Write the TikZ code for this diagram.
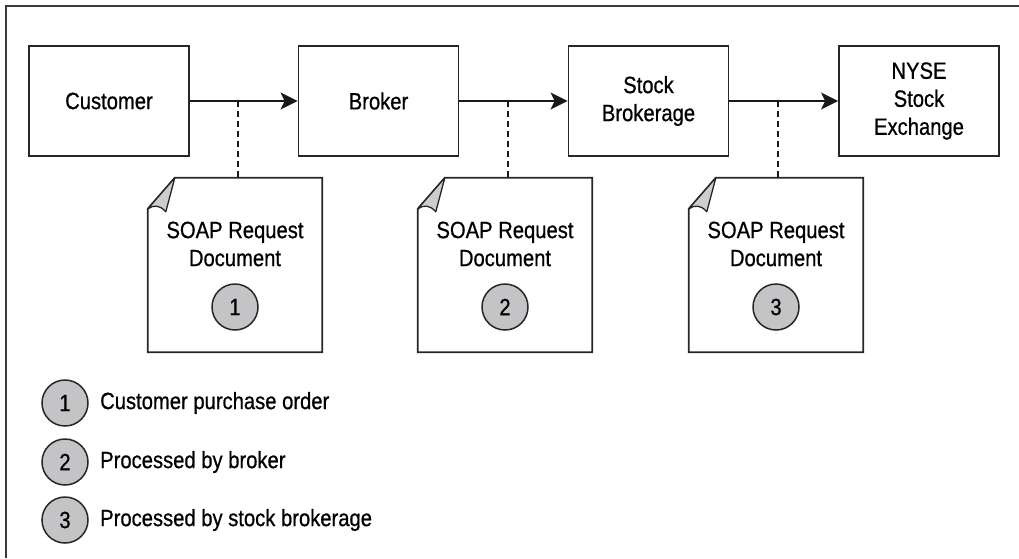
\documentclass[tikz,border=0pt]{standalone}
\usepackage{fontspec}
\setmainfont{Liberation Sans}[FakeStretch=0.86,FakeBold=0.7]
\usetikzlibrary{arrows.meta,calc}
\definecolor{circgray}{HTML}{C4C4C6}
\definecolor{foldgray}{HTML}{CDCDCF}
\definecolor{framegray}{HTML}{3A3A3A}
\begin{document}
\begin{tikzpicture}[x=1pt,y=-1pt,
  every node/.style={font=\fontsize{23.5}{28}\selectfont, text=black},
  entity/.style={draw=black!85, line width=1.8pt, minimum width=160pt, minimum height=110pt, align=center, inner sep=0pt},
  docarea/.style={draw=none, minimum width=174pt, minimum height=174pt, inner sep=0pt},
  numcirc/.style={circle, draw=black!85, line width=1.5pt, fill=circgray, minimum size=46pt, inner sep=0pt},
  flow/.style={line width=1.8pt, draw=black!90, -{Stealth[length=17pt,width=17pt,inset=4pt]}},
  link/.style={line width=1.8pt, draw=black!90, dash pattern=on 6pt off 4pt},
  docline/.style={line width=1.8pt, draw=black!85, line join=miter}
]
\useasboundingbox (0,0) rectangle (1019,558);
% frame (top and left edges)
\draw[framegray, line width=2pt] (1019,6) -- (6,6) -- (6,558);

% entities
\node[entity] (cust) at (109,101) {Customer};
\node[entity] (brok) at (378.5,101) {Broker};
\node[entity] (stock) at (648.5,101) {Stock\\Brokerage};
\node[entity] (nyse) at (919,101) {NYSE\\Stock\\Exchange};

\draw[flow] (cust.east) -- (brok.west);
\draw[flow] (brok.east) -- (stock.west);
\draw[flow] (stock.east) -- (nyse.west);

% documents
\foreach \i/\cx/\mx in {1/235/238, 2/505/508, 3/776/778} {
  \node[docarea] (d\i) at (\cx,265) {};
  \coordinate (m\i) at (\mx,101);
  \draw[link] (m\i) -- (m\i |- d\i.north);
  \draw[docline] ($(d\i.north west)+(27,0)$) -- (d\i.north east) -- (d\i.south east) -- (d\i.south west) -- ($(d\i.north west)+(0,31)$) -- cycle;
  \draw[line width=1.3pt, draw=black!85, fill=foldgray, line join=round]
    ($(d\i.north west)+(27,0)$) -- ($(d\i.north west)+(18,34)$)
    .. controls ($(d\i.north west)+(12,27)$) and ($(d\i.north west)+(6,27)$) .. ($(d\i.north west)+(0,31)$) -- cycle;
  \node[align=center] (t\i) at (\cx,244) {SOAP Request\\Document};
  \node[numcirc] (c\i) at (\cx,307) {\i};
}

% legend
\node[numcirc] (l1) at (65,403) {1};
\node[numcirc] (l2) at (65,462) {2};
\node[numcirc] (l3) at (65,520) {3};
\node[anchor=west, inner sep=0pt] (lt1) at (100,403) {Customer purchase order};
\node[anchor=west, inner sep=0pt] (lt2) at (100,462) {Processed by broker};
\node[anchor=west, inner sep=0pt] (lt3) at (100,520) {Processed by stock brokerage};
\end{tikzpicture}
\end{document}
